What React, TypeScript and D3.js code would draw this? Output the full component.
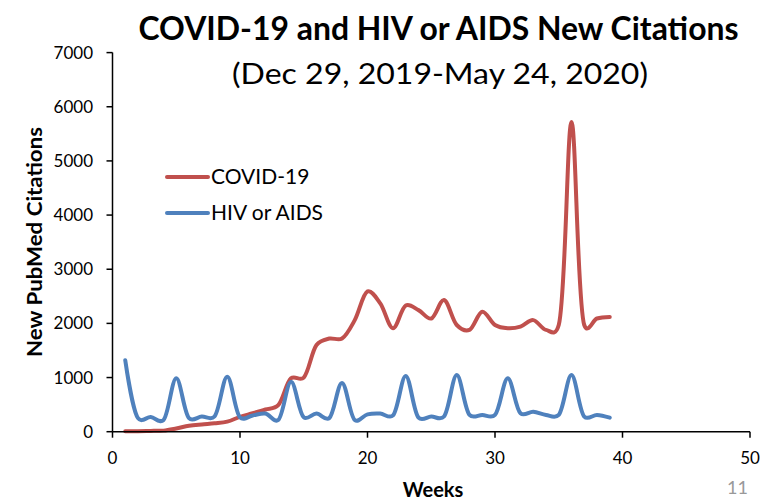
import React from "react";
import * as d3 from "d3";

const weeks = [1,2,3,4,5,6,7,8,9,10,11,12,13,14,15,16,17,18,19,20,21,22,23,24,25,26,27,28,29,30,31,32,33,34,35,36,37,38,39];
const covid = [10,10,15,20,60,110,135,155,185,275,340,410,490,985,1000,1600,1720,1720,2060,2590,2370,1910,2330,2245,2090,2430,1970,1880,2215,1970,1910,1940,2060,1880,1970,5720,1970,2090,2120];
const hiv = [1320,250,270,215,985,250,280,280,1015,265,300,335,215,920,265,335,250,900,215,320,335,300,1030,260,280,280,1045,310,310,310,985,340,370,310,310,1045,280,310,260];
const seriesNames = ["COVID-19", "HIV or AIDS"];
const seriesColors = ["#C0504D", "#4F81BD"];
const xTicks = [0,10,20,30,40,50];
const yTicks = [0,1000,2000,3000,4000,5000,6000,7000];

const FONT = "Lato, 'Open Sans', sans-serif";

export default function App() {
  const x = d3.scaleLinear().domain([0, 50]).range([112.5, 750]);
  const y = d3.scaleLinear().domain([0, 7000]).range([431.7, 52.6]);
  const line = d3.line<number>()
    .x((_, i) => x(weeks[i]))
    .y((d) => y(d))
    .curve(d3.curveCatmullRom.alpha(0.25));
  const data = [covid, hiv];
  return (
    <svg width={771} height={500} style={{ position: "absolute", left: 0, top: 0, background: "#fff" }}>
      <rect width={771} height={500} fill="#fff" />
      <text x={438.5} y={39.5} textAnchor="middle" fontFamily={FONT} fontWeight="bold" fontSize={32} textLength={600} lengthAdjust="spacingAndGlyphs" fill="#000">COVID-19 and HIV or AIDS New Citations</text>
      <text x={440} y={84} textAnchor="middle" fontFamily={FONT} fontSize={28} textLength={416} lengthAdjust="spacingAndGlyphs" fill="#000">(Dec 29, 2019-May 24, 2020)</text>

      {data.map((d, k) => (
        <path key={k} d={line(d) || ""} fill="none" stroke={seriesColors[k]} strokeWidth={4} strokeLinejoin="round" strokeLinecap="round" />
      ))}

      {/* axes */}
      <line x1={x(0)} x2={x(0)} y1={y(0)} y2={y(7000)} stroke="#000" strokeWidth={1.5} />
      <line x1={x(0)} x2={x(50)} y1={y(0)} y2={y(0)} stroke="#000" strokeWidth={1.5} />
      {yTicks.map((t) => (
        <g key={"y" + t}>
          <line x1={x(0) - 6} x2={x(0)} y1={y(t)} y2={y(t)} stroke="#000" strokeWidth={1.5} />
          <text x={93} y={y(t) + 6} textAnchor="end" fontFamily={FONT} fontSize={17} fill="#000">{t}</text>
        </g>
      ))}
      {xTicks.map((t) => (
        <g key={"x" + t}>
          <line x1={x(t)} x2={x(t)} y1={y(0)} y2={y(0) + 6} stroke="#000" strokeWidth={1.5} />
          <text x={x(t)} y={464} textAnchor="middle" fontFamily={FONT} fontSize={17} fill="#000">{t}</text>
        </g>
      ))}

      <text x={433} y={497} textAnchor="middle" fontFamily={FONT} fontWeight="bold" fontSize={20} fill="#000">Weeks</text>
      <text transform="translate(42,242) rotate(-90)" textAnchor="middle" fontFamily={FONT} fontWeight="bold" fontSize={21} textLength={230} lengthAdjust="spacingAndGlyphs" fill="#000">New PubMed Citations</text>

      {/* legend */}
      {seriesNames.map((n, k) => (
        <g key={n}>
          <line x1={167} x2={208} y1={177 + k * 36} y2={177 + k * 36} stroke={seriesColors[k]} strokeWidth={4} strokeLinecap="round" />
          <text x={211} y={183.5 + k * 36.5} fontFamily={FONT} fontSize={21} fill="#000">{n}</text>
        </g>
      ))}

      <text x={727} y={494} fontFamily={FONT} fontSize={18} fill="#999">11</text>
    </svg>
  );
}
